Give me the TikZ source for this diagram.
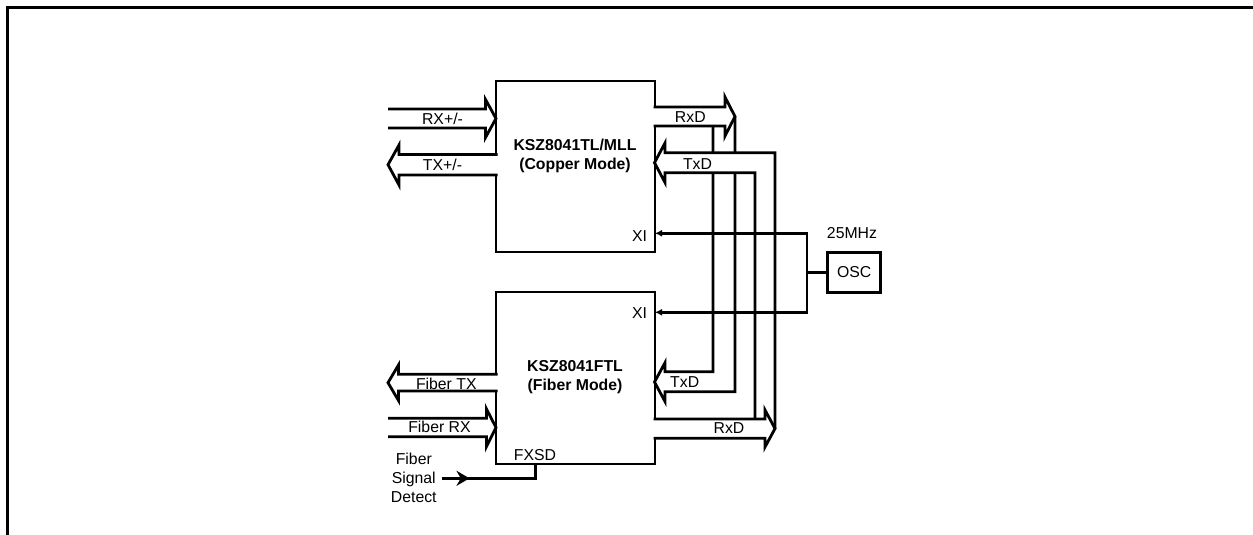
\documentclass[tikz,border=0pt]{standalone}
\usepackage{fontspec}
\setmainfont{Liberation Sans}
\usetikzlibrary{arrows.meta}

\begin{document}
\begin{tikzpicture}[x=1pt,y=-1pt,line width=2.8pt,
  chip/.style={draw,minimum width=159pt,inner sep=0pt,outer sep=0pt},
  lbl/.style={inner sep=0pt,font=\fontsize{15.8}{19}\selectfont},
  ttl/.style={lbl,align=center,font=\fontsize{15.8}{19}\selectfont\bfseries},
  bus/.style={draw,fill=white},
  clk/.style={-{Latex[length=7pt,width=7pt]}}]
\useasboundingbox (0,0) rectangle (1253,535);
% frame
\draw[line width=2.3pt] (7.5,535) -- (7.5,7.5) -- (1253,7.5);

% the two PHYs and the oscillator
\node[chip,minimum height=171pt] (cu) at (575.5,166.5) {};
\node[chip,minimum height=172pt] (fi) at (575.5,378) {};
\node[draw,lbl,minimum width=53pt,minimum height=39.6pt] (osc) at (854.2,272.5) {OSC};

% copper side
\filldraw[bus] (388,109) -- (485.5,109) -- (485.5,99.5) -- (496,118.5) -- (485.5,137.5) -- (485.5,128) -- (388,128);
\filldraw[bus] (497.5,154.5) -- (399,154.5) -- (399,145) -- (388,164.7) -- (399,185) -- (399,175) -- (497.5,175);
% fiber side
\filldraw[bus] (497.5,374.3) -- (398.5,374.3) -- (398.5,365) -- (388,382.7) -- (398.5,400.5) -- (398.5,391) -- (497.5,391);
\filldraw[bus] (388,418.3) -- (486.5,418.3) -- (486.5,409) -- (496,427.5) -- (486.5,446.5) -- (486.5,436.7) -- (388,436.7);

% copper RxD -> fiber TxD
\filldraw[bus] (653.6,107) -- (725,107) -- (725,97) -- (735,116.5) -- (725,136) -- (725,126) -- (653.6,126);
\draw (735,116.5) -- (735,391.7) -- (665,391.7) -- (665,401.5) -- (654.5,382) -- (665,362.7) -- (665,371.7) -- (713,371.7) -- (713,126);

% fiber RxD -> copper TxD
\filldraw[bus] (653.6,419) -- (765,419) -- (765,410) -- (775,428.6) -- (765,447) -- (765,438.3) -- (653.6,438.3);
\fill[white] (665,152.7) rectangle (775,172.7);
\draw (775,428.6) -- (775,152.7) -- (665,152.7) -- (665,143) -- (654.5,162.7) -- (665,182.5) -- (665,172.7) -- (755,172.7) -- (755,419);

% clock
\coordinate (jct) at (807,272.5);
\draw (osc.west) -- (jct);
\draw[clk] (jct) |- (cu.east |- 0,233.3);
\draw[clk] (jct) |- (fi.east |- 0,312.3);
\node[lbl] (mhz) at (852,233) {25MHz};

% signal detect
\coordinate (sdin) at (441.7,478.3);
\draw (535.7,464) |- (sdin);
\draw[-{Stealth[length=13pt,width=15pt]}] (sdin) -- (469.5,478.3);
\node[lbl,align=center] (sd) at (413.8,478) {Fiber\\Signal\\Detect};

% labels
\node[ttl] (cuname) at (575,156) {KSZ8041TL/MLL\\(Copper Mode)};
\node[ttl] (finame) at (575,377.2) {KSZ8041FTL\\(Fiber Mode)};
\node[lbl,anchor=east] (xicu) at (648.5,236) {XI};
\node[lbl,anchor=east] (xifi) at (648.5,313.3) {XI};
\node[lbl] (fxsd) at (535,455) {FXSD};
\node[lbl] at (442.5,119) {RX+/-};
\node[lbl] at (442.5,165) {TX+/-};
\node[lbl] at (446.3,384) {Fiber TX};
\node[lbl] at (439.5,427.3) {Fiber RX};
\node[lbl] at (690.3,117.3) {RxD};
\node[lbl] at (697.5,164.3) {TxD};
\node[lbl] at (684.7,382.3) {TxD};
\node[lbl] at (729,428.3) {RxD};
\end{tikzpicture}
\end{document}
